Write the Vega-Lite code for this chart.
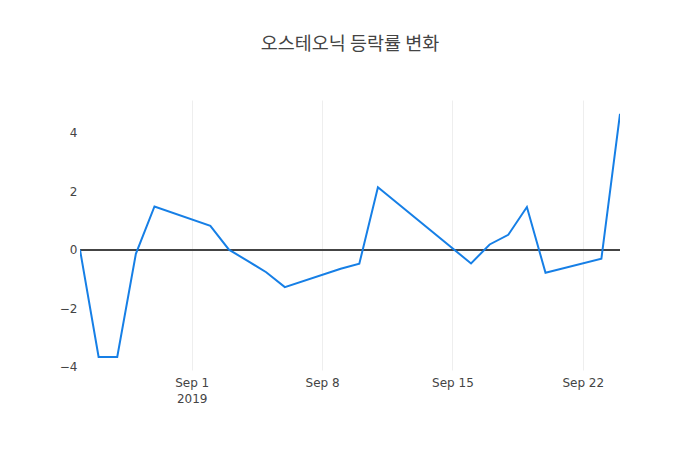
{
  "$schema": "https://vega.github.io/schema/vega-lite/v6.json",
  "width": 540,
  "height": 270,
  "autosize": {"type": "none"},
  "padding": {"left": 80, "top": 100, "right": 80, "bottom": 80},
  "background": "white",
  "title": {
    "text": "오스테오닉 등락률 변화",
    "font": "Noto Sans CJK KR",
    "fontSize": 18.5,
    "fontWeight": "normal",
    "color": "#444444",
    "anchor": "middle",
    "frame": "group",
    "offset": 47
  },
  "data": {
    "values": [
      {"date": "2019-08-26", "rate": 0.0},
      {"date": "2019-08-27", "rate": -3.67},
      {"date": "2019-08-28", "rate": -3.67},
      {"date": "2019-08-29", "rate": -0.14},
      {"date": "2019-08-30", "rate": 1.48},
      {"date": "2019-09-02", "rate": 0.82},
      {"date": "2019-09-03", "rate": 0.0},
      {"date": "2019-09-04", "rate": -0.38},
      {"date": "2019-09-05", "rate": -0.77},
      {"date": "2019-09-06", "rate": -1.28},
      {"date": "2019-09-09", "rate": -0.65},
      {"date": "2019-09-10", "rate": -0.48},
      {"date": "2019-09-11", "rate": 2.14},
      {"date": "2019-09-16", "rate": -0.47},
      {"date": "2019-09-17", "rate": 0.18},
      {"date": "2019-09-18", "rate": 0.51},
      {"date": "2019-09-19", "rate": 1.46},
      {"date": "2019-09-20", "rate": -0.79},
      {"date": "2019-09-23", "rate": -0.31},
      {"date": "2019-09-24", "rate": 4.65}
    ]
  },
  "config": {
    "view": {"stroke": null},
    "axis": {
      "labelFont": "DejaVu Sans",
      "labelFontSize": 12,
      "labelColor": "#444444",
      "gridColor": "#eeeeee",
      "gridWidth": 1,
      "domain": false,
      "ticks": false,
      "title": null
    }
  },
  "layer": [
    {
      "mark": {"type": "rule", "color": "#444444", "strokeWidth": 1},
      "encoding": {"y": {"datum": 0, "type": "quantitative"}}
    },
    {
      "mark": {"type": "line", "color": "#167fe6", "strokeWidth": 2, "clip": true},
      "encoding": {
        "x": {
          "field": "date",
          "type": "temporal",
          "scale": {"domain": ["2019-08-26T00:00:00", "2019-09-24T00:00:00"], "nice": false},
          "axis": {
            "values": ["2019-09-01T00:00:00", "2019-09-08T00:00:00", "2019-09-15T00:00:00", "2019-09-22T00:00:00"],
            "labelExpr": "date(datum.value) == 1 ? [timeFormat(datum.value, '%b %-d'), '2019'] : timeFormat(datum.value, '%b %-d')",
            "labelPadding": 7,
            "labelLineHeight": 16,
            "labelBaseline": "top"
          }
        },
        "y": {
          "field": "rate",
          "type": "quantitative",
          "scale": {"domain": [-4.116, 5.124], "nice": false, "zero": false},
          "axis": {
            "values": [-4, -2, 0, 2, 4],
            "labelExpr": "replace(format(datum.value, 'd'), '-', '−')",
            "labelPadding": 3
          }
        }
      }
    }
  ]
}
